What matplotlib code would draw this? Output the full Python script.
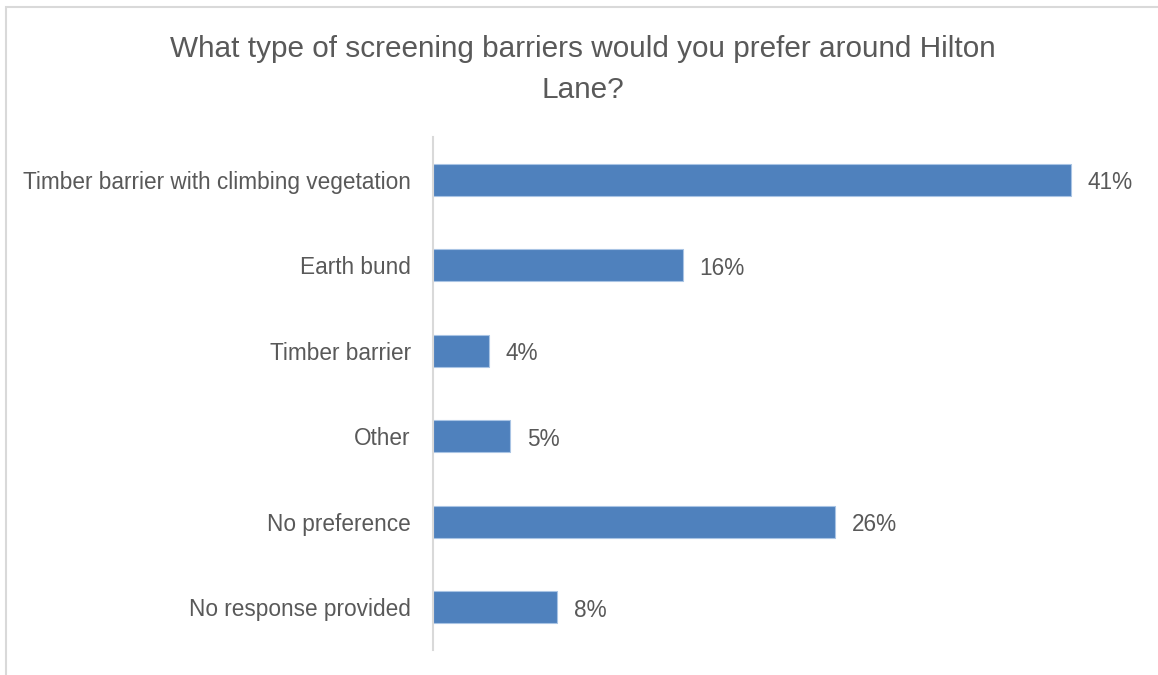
import matplotlib
matplotlib.use("Agg")
import matplotlib.pyplot as plt
from matplotlib.patches import Rectangle

categories = ["Timber barrier with climbing vegetation", "Earth bund", "Timber barrier",
              "Other", "No preference", "No response provided"]
values = [41, 16.05, 3.6, 4.95, 25.85, 7.97]
value_labels = ["41%", "16%", "4%", "5%", "26%", "8%"]
title = "What type of screening barriers would you prefer around Hilton\nLane?"

plt.rcParams['font.family'] = ['Liberation Sans', 'DejaVu Sans']
text_color = "#595959"
bar_color = "#4f81bd"

fig = plt.figure(figsize=(11.58, 6.75), dpi=100)
fig.patches.append(Rectangle((6/1158, -0.1), 1.2, (675-7)/675 + 0.1, transform=fig.transFigure,
                             fill=False, edgecolor="#d9d9d9", linewidth=1.5))
ax = fig.add_axes([433/1158, 25/675, 700/1158, 513/675])
y = list(range(len(categories)))
ax.barh(y, values, height=0.38, color=bar_color, edgecolor="#a9c4e4", linewidth=0.8)
ax.set_ylim(len(categories) - 0.5, -0.5)
ax.set_xlim(0, 45)
ax.set_yticks(y)
ax.set_yticklabels(categories, fontsize=16.3, color=text_color)
ax.tick_params(axis='y', length=0, pad=16)
ax.set_xticks([])
for s in ["top", "right", "bottom"]:
    ax.spines[s].set_visible(False)
ax.spines["left"].set_color("#d9d9d9")
ax.spines["left"].set_linewidth(1.5)
for yi, v, lab in zip(y, values, value_labels):
    ax.annotate(lab, (v, yi), xytext=(17, -3), textcoords="offset pixels",
                va="center", ha="left", fontsize=16.3, color=text_color)
fig.text(583/1158, 1 - 69.5/675, title, ha="center", va="center", fontsize=21.4,
         color=text_color, multialignment="center", linespacing=1.55)
fig.savefig("out.png", dpi=100)
